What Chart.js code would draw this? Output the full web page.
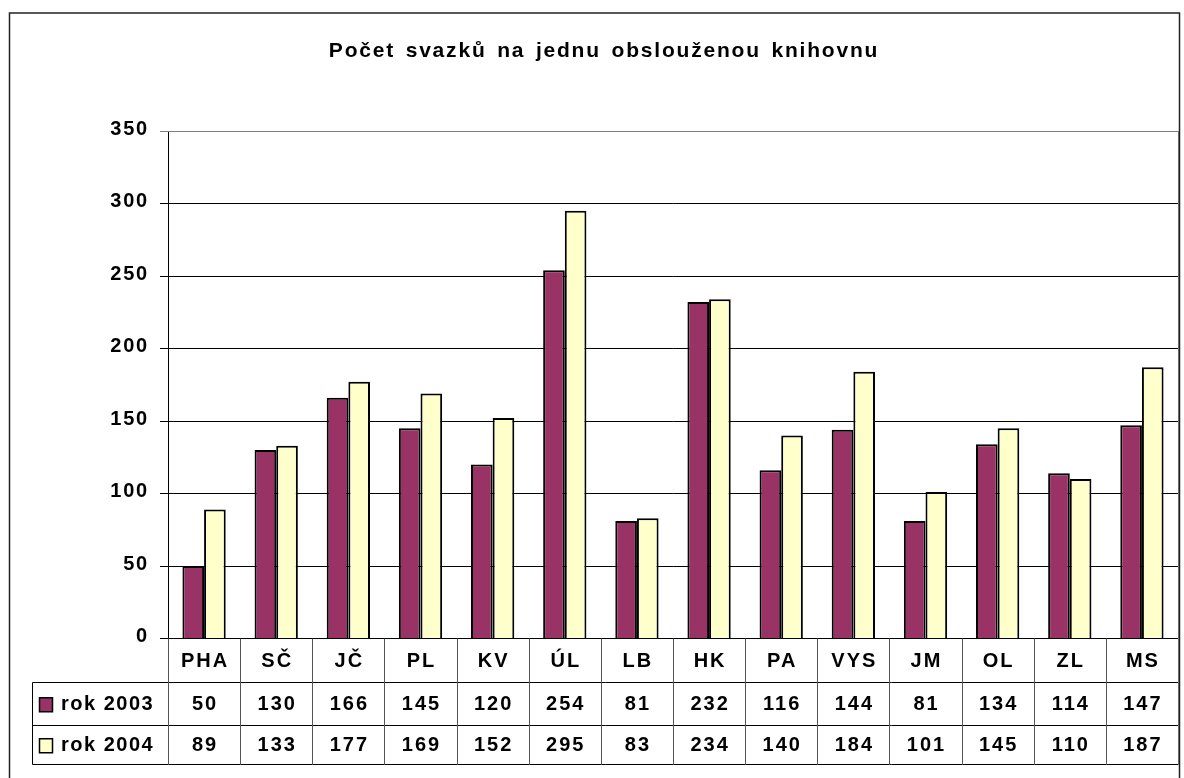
<!DOCTYPE html>
<html><head><meta charset="utf-8">
<script src="https://cdn.jsdelivr.net/npm/chart.js@4/dist/chart.umd.min.js"></script>
<style>html,body{margin:0;padding:0;background:#fff;overflow:hidden}</style>
</head><body>
<canvas id="c" width="1184" height="778" style="display:block;width:1184px;height:778px"></canvas>
<script>
const titleText = 'Počet svazků na jednu obslouženou knihovnu';
const categories = ['PHA','SČ','JČ','PL','KV','ÚL','LB','HK','PA','VYS','JM','OL','ZL','MS'];
const series2003 = [50,130,166,145,120,254,81,232,116,144,81,134,114,147];
const series2004 = [89,133,177,169,152,295,83,234,140,184,101,145,110,187];
const seriesNames = ['rok 2003','rok 2004'];
const seriesColors = ['#993366','#FFFFCC'];
const yMin = 0, yMax = 350, yStep = 50;

const FAMILY = '"Liberation Sans", Arial, sans-serif';
const FONT = 'bold 20px ' + FAMILY;

const tablePlugin = {
  id: 'tablePlugin',
  beforeDraw(chart) {
    const ctx = chart.ctx;
    ctx.save();
    ctx.fillStyle = '#fff';
    ctx.fillRect(0, 0, chart.width, chart.height);
    ctx.restore();
    ctx.letterSpacing = '1.8px';
  },
  afterDraw(chart) {
    const ctx = chart.ctx;
    const ca = chart.chartArea;
    const xs = chart.scales.x;
    const n = categories.length;
    const colW = (ca.right - ca.left) / n;
    const r0 = ca.bottom, r1 = r0 + 43, r2 = r1 + 43.5, r3 = r2 + 38.5;
    const legL = 32.5;
    ctx.save();
    // table lines
    ctx.lineWidth = 1;
    ctx.strokeStyle = '#000';
    ctx.beginPath();
    ctx.moveTo(legL, Math.round(r1) + 0.5); ctx.lineTo(ca.right, Math.round(r1) + 0.5);
    ctx.moveTo(legL, Math.round(r2) + 0.5); ctx.lineTo(ca.right, Math.round(r2) + 0.5);
    ctx.moveTo(legL, Math.round(r3) + 0.5); ctx.lineTo(ca.right, Math.round(r3) + 0.5);
    ctx.moveTo(legL, Math.round(r1) + 0.5); ctx.lineTo(legL, Math.round(r3) + 0.5);
    ctx.stroke();
    ctx.strokeStyle = '#555';
    ctx.beginPath();
    for (let i = 0; i <= n; i++) {
      const bx = Math.round(ca.left + i * colW) + 0.5;
      ctx.moveTo(bx, r0); ctx.lineTo(bx, Math.round(r3) + 1);
    }
    ctx.stroke();
    // plot area top/right border
    ctx.strokeStyle = '#808080';
    ctx.beginPath();
    ctx.moveTo(ca.left, Math.round(ca.top) + 0.5); ctx.lineTo(ca.right, Math.round(ca.top) + 0.5);
    ctx.moveTo(Math.round(ca.right) + 0.5, ca.top); ctx.lineTo(Math.round(ca.right) + 0.5, Math.round(r3) + 1);
    ctx.stroke();

    // texts
    ctx.fillStyle = '#000';
    ctx.font = FONT;
    ctx.textAlign = 'center';
    ctx.textBaseline = 'middle';
    ctx.letterSpacing = '2px';
    const rows = [series2003, series2004];
    categories.forEach((c, i) => {
      const cx = xs.getPixelForValue(i) + 1;
      ctx.fillText(c, cx, (r0 + r1) / 2 + 1);
      ctx.fillText(String(rows[0][i]), cx, (r1 + r2) / 2 + 1);
      ctx.fillText(String(rows[1][i]), cx, (r2 + r3) / 2 + 1);
    });
    // legend keys
    ctx.textAlign = 'left';
    ctx.letterSpacing = '1.5px';
    [[r1, r2], [r2, r3]].forEach(([a, b], k) => {
      const cy = (a + b) / 2;
      ctx.fillStyle = seriesColors[k];
      ctx.fillRect(39.5, cy - 5.5, 13, 14);
      ctx.strokeStyle = '#000';
      ctx.lineWidth = 1.5;
      ctx.strokeRect(39.5, cy - 5.5, 13, 14);
      ctx.fillStyle = '#000';
      ctx.fillText(seriesNames[k], 61, cy + 1);
    });
    // title
    ctx.font = 'bold 21px ' + FAMILY;
    ctx.textAlign = 'center';
    ctx.textBaseline = 'alphabetic';
    ctx.letterSpacing = '1.8px';
    ctx.wordSpacing = '3px';
    ctx.fillText(titleText, 604, 56.5);
    ctx.wordSpacing = '0px';
    // outer border
    ctx.letterSpacing = '0px';
    ctx.strokeStyle = '#222';
    ctx.lineWidth = 1.5;
    ctx.strokeRect(9.5, 13, 1170, 800);
    ctx.restore();
    ctx.letterSpacing = '0px';
  }
};

new Chart(document.getElementById('c'), {
  type: 'bar',
  data: {
    labels: categories,
    datasets: [
      { label: seriesNames[0], data: series2003, backgroundColor: seriesColors[0], borderColor: '#000', borderWidth: 2, borderSkipped: 'start' },
      { label: seriesNames[1], data: series2004, backgroundColor: seriesColors[1], borderColor: '#000', borderWidth: 2, borderSkipped: 'start' }
    ]
  },
  options: {
    responsive: false,
    animation: false,
    devicePixelRatio: 1,
    layout: { padding: { left: 0, right: 6, top: 131, bottom: 139.5 } },
    plugins: { legend: { display: false }, title: { display: false }, tooltip: { enabled: false } },
    datasets: { bar: { categoryPercentage: 0.6, barPercentage: 1.0 } },
    scales: {
      x: {
        ticks: { display: false },
        grid: { display: false, drawTicks: false },
        border: { display: true, color: '#000', width: 1 },
        afterFit(s) { s.height = 0; }
      },
      y: {
        min: yMin, max: yMax,
        ticks: { stepSize: yStep, color: '#000', font: { family: FAMILY, size: 20, weight: 'bold' }, padding: 11, labelOffset: -2 },
        grid: { color: (c) => c.tick && c.tick.value === yMax ? '#808080' : '#000', lineWidth: 1, tickLength: 8, drawTicks: true },
        border: { display: true, color: '#000', width: 1 },
        afterFit(s) { s.width = 168; }
      }
    }
  },
  plugins: [tablePlugin]
});
</script>
</body></html>
